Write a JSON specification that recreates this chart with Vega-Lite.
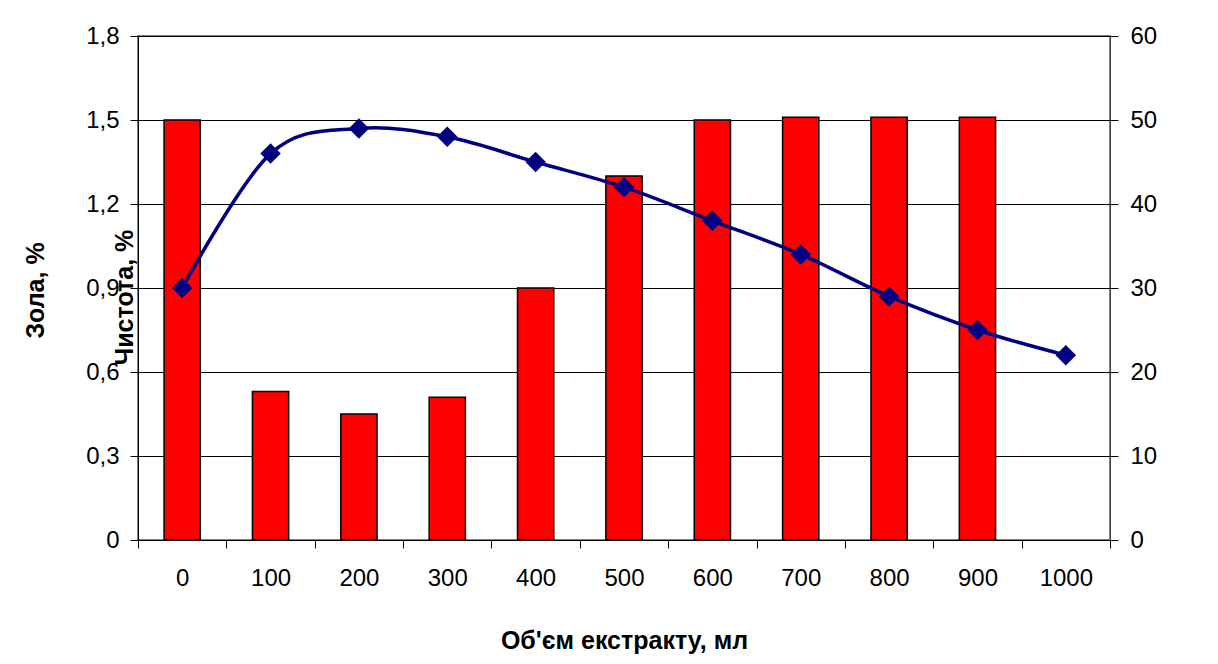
{
  "$schema": "https://vega.github.io/schema/vega-lite/v6.json",
  "width": 972,
  "height": 504,
  "autosize": {"type": "none"},
  "padding": {"left": 138, "top": 36, "right": 108, "bottom": 124},
  "background": "white",
  "config": {
    "font": "Liberation Sans",
    "view": {"stroke": "#808080", "strokeWidth": 2},
    "axis": {"labelColor": "#000000", "titleColor": "#000000", "labelFont": "Liberation Sans", "titleFont": "Liberation Sans"}
  },
  "data": {
    "values": [
      {"v": 0, "ash": 1.5, "purity": 30},
      {"v": 100, "ash": 0.53, "purity": 46},
      {"v": 200, "ash": 0.45, "purity": 49},
      {"v": 300, "ash": 0.51, "purity": 48},
      {"v": 400, "ash": 0.9, "purity": 45},
      {"v": 500, "ash": 1.3, "purity": 42},
      {"v": 600, "ash": 1.5, "purity": 38},
      {"v": 700, "ash": 1.51, "purity": 34},
      {"v": 800, "ash": 1.51, "purity": 29},
      {"v": 900, "ash": 1.51, "purity": 25},
      {"v": 1000, "ash": null, "purity": 22}
    ]
  },
  "encoding": {
    "x": {
      "field": "v",
      "type": "ordinal",
      "scale": {"paddingInner": 0, "paddingOuter": 0},
      "axis": {
        "title": "Об'єм екстракту, мл",
        "labelAngle": 0,
        "tickBand": "extent",
        "tickSize": 8,
        "tickColor": "#000000",
        "domainColor": "#000000",
        "labelFontSize": 24,
        "labelPadding": 18,
        "titleFontSize": 25,
        "titleFontWeight": "bold",
        "titleY": 108,
        "titleBaseline": "alphabetic",
        "grid": false
      }
    }
  },
  "layer": [
    {
      "mark": {"type": "bar", "width": {"band": 0.41}, "fill": "#FF0000", "stroke": "#000000", "strokeWidth": 1.5},
      "encoding": {
        "y": {
          "field": "ash",
          "type": "quantitative",
          "scale": {"domain": [0, 1.8], "nice": false},
          "axis": {
            "title": "Зола, %",
            "values": [0, 0.3, 0.6, 0.9, 1.2, 1.5, 1.8],
            "labelExpr": "datum.value == 0 ? '0' : replace(format(datum.value, '.1f'), '.', ',')",
            "grid": true,
            "gridColor": "#000000",
            "gridWidth": 1,
            "gridOpacity": 1,
            "tickSize": 8,
            "tickColor": "#000000",
            "domainColor": "#000000",
            "labelFontSize": 24,
            "labelPadding": 11,
            "titleFontSize": 25,
            "titleFontWeight": "bold",
            "titleAngle": 270,
            "titleX": -95,
            "titleY": 254,
            "titleAlign": "center",
            "titleBaseline": "alphabetic"
          }
        }
      }
    },
    {
      "mark": {
        "type": "line",
        "interpolate": "cardinal",
        "color": "#000080",
        "strokeWidth": 3.5,
        "point": {"shape": "diamond", "size": 420, "filled": true, "color": "#000080"}
      },
      "encoding": {
        "y": {
          "field": "purity",
          "type": "quantitative",
          "scale": {"domain": [0, 60], "nice": false},
          "axis": {
            "orient": "right",
            "title": "Чистота, %",
            "values": [0, 10, 20, 30, 40, 50, 60],
            "grid": false,
            "tickSize": 8,
            "tickColor": "#000000",
            "domainColor": "#404040",
            "labelFontSize": 24,
            "labelPadding": 12,
            "titleFontSize": 25,
            "titleFontWeight": "bold",
            "titleAngle": 270,
            "titleX": -978,
            "titleY": 261,
            "titleAlign": "center",
            "titleBaseline": "alphabetic"
          }
        }
      }
    }
  ],
  "resolve": {"scale": {"y": "independent"}}
}
